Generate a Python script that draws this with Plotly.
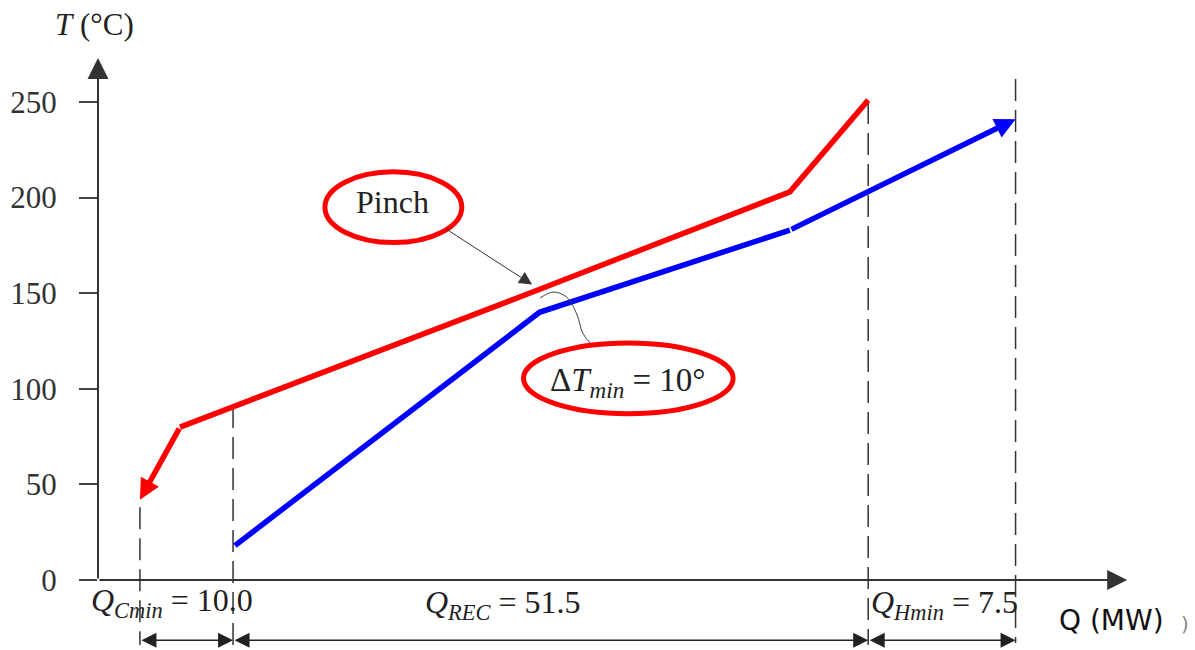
import plotly.graph_objects as go

# ---- data (x in picture Q-units, T in °C) ----
hot_q = [3.4, 6.65, 35.4, 56.1, 62.45]
hot_t = [42, 80, 151, 203, 251]
cold_q = [11.1, 35.8, 56.1, 74.4]
cold_t = [18, 140, 183, 241]
ytick_vals = [0, 50, 100, 150, 200, 250]
ytick_text = ["0", "50", "100", "150", "200", "250"]

# vertical dashed guides (x, top T, bottom T)
guide_q = [3.4, 10.95, 62.45, 74.4]
guide_top = [38, 91, 250, 262]
guide_bot = [-34, -34, -34, -33]

# bottom span arrows
span_start = [3.4, 10.95, 62.45]
span_end = [10.95, 62.45, 74.4]
span_level = -31.5
span_labels = ["<i>Q</i><sub><i>Cmin</i></sub> = 10.0",
               "<i>Q</i><sub><i>REC</i></sub> = 51.5",
               "<i>Q</i><sub><i>Hmin</i></sub> = 7.5"]
span_label_q = [6.0, 32.8, 68.6]
span_label_t = [-12, -13, -13]

# ΔT connector squiggle
conn_q = [35.85, 36.9, 38.0, 38.85, 39.3, 39.9]
conn_t = [147.5, 150.6, 148.0, 138.6, 129.2, 124]

X_END = 83.45
Y_END = 273
RED = "#ff0000"
BLUE = "#0000ff"
SERIF = "Liberation Serif"
TXT = "#222222"

fig = go.Figure()

# hot composite (all but first segment, that one is the arrow)
fig.add_trace(go.Scatter(x=hot_q[1:], y=hot_t[1:], mode="lines",
                         line=dict(color=RED, width=5.5), hoverinfo="skip"))
# cold composite (all but last segment)
fig.add_trace(go.Scatter(x=cold_q[:-1], y=cold_t[:-1], mode="lines",
                         line=dict(color=BLUE, width=5.5), hoverinfo="skip"))
# connector
fig.add_trace(go.Scatter(x=conn_q, y=conn_t, mode="lines",
                         line=dict(color="#444444", width=1, shape="spline"),
                         hoverinfo="skip"))

shapes = []
for q, t0, t1 in zip(guide_q, guide_top, guide_bot):
    shapes.append(dict(type="line", xref="x", yref="y", x0=q, x1=q, y0=t0, y1=t1,
                       line=dict(color="#333333", width=1.5, dash="22px,9px"),
                       layer="below"))
# ellipses
shapes.append(dict(type="circle", xref="x", yref="y", x0=18.4, x1=29.5, y0=176.5, y1=213.5,
                   line=dict(color=RED, width=5)))
shapes.append(dict(type="circle", xref="x", yref="y", x0=34.5, x1=51.5, y0=87, y1=124,
                   line=dict(color=RED, width=5)))

annotations = []

def arrow(x0, y0, x1, y1, color, width, size, head=2, side="end"):
    annotations.append(dict(x=x1, y=y1, ax=x0, ay=y0, xref="x", yref="y",
                            axref="x", ayref="y", text="", showarrow=True,
                            arrowhead=head, startarrowhead=head, arrowside=side,
                            arrowsize=size, startarrowsize=size,
                            arrowwidth=width, arrowcolor=color, standoff=0,
                            startstandoff=0))

# axes
arrow(0, 0, 0, Y_END, "#333333", 2, 2.1)
arrow(0, 0, X_END, 0, "#333333", 2, 2.0)
# curve arrow ends
arrow(hot_q[1], hot_t[1], hot_q[0], hot_t[0], RED, 5.5, 0.75)
arrow(cold_q[-2], cold_t[-2], cold_q[-1], cold_t[-1], BLUE, 5.5, 0.75)
# pinch pointer
arrow(28.1, 184.1, 35.2, 154.5, "#333333", 1, 2.6)
# span arrows
for a, b in zip(span_start, span_end):
    arrow(a, span_level, b, span_level, "#222222", 1.5, 2, side="end+start")

def text(x, y, s, size=31, family=SERIF, color=TXT, ref="x"):
    annotations.append(dict(x=x, y=y, xref=ref, yref="y" if ref == "x" else "paper",
                            text=s, showarrow=False,
                            font=dict(family=family, size=size, color=color),
                            xanchor="center", yanchor="middle"))

for s, q, t in zip(span_labels, span_label_q, span_label_t):
    text(q, t, s, size=32)
text(23.9, 197.5, "Pinch", size=32)
text(43.0, 103.5, "Δ<i>T</i><sub><i>min</i></sub> = 10°", size=33)
text(82.2, -21, "Q (MW)", size=28, family="DejaVu Sans", color="#111111")
# labels outside the data range, placed in paper coordinates
text(-0.003, 1.043, "<i>T</i> (°C)", size=31, ref="paper")
text(1.033, 0.043, ")", size=20, family="DejaVu Sans", color="#888888", ref="paper")

fig.update_layout(
    width=1195, height=650,
    margin=dict(l=98, r=45, t=50, b=0),
    paper_bgcolor="white", plot_bgcolor="white",
    showlegend=False,
    shapes=shapes, annotations=annotations,
    xaxis=dict(range=[0, 85.3], showgrid=False, zeroline=False, showline=False,
               showticklabels=False, ticks=""),
    yaxis=dict(range=[-36.6, 277.2], showgrid=False, zeroline=False, showline=False,
               tickmode="array", tickvals=ytick_vals, ticktext=ytick_text,
               ticks="outside", ticklen=18, tickwidth=1.5, tickcolor="#444444",
               ticklabelstandoff=16,
               tickfont=dict(family=SERIF, size=31, color="#333333")),
)

fig.write_html("out.html", config={"displayModeBar": False},
               post_script="document.body.style.margin='0';")
